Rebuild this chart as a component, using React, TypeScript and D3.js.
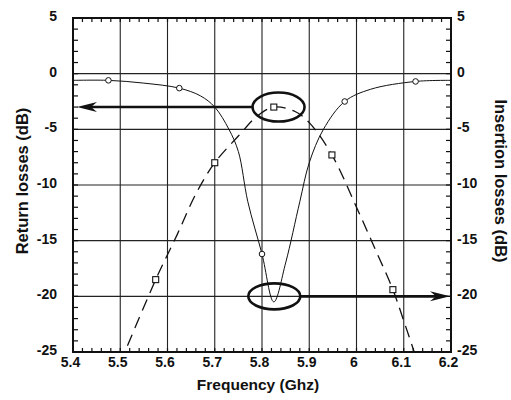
import React from 'react';
import * as d3 from 'd3';

// frequency axis (GHz) and dB axes
const freqTicks = [5.4, 5.5, 5.6, 5.7, 5.8, 5.9, 6.0, 6.1, 6.2];
const dbTicks = [5, 0, -5, -10, -15, -20, -25];

// solid curve (V shaped notch) with circle markers
const solidFreq = [5.4, 5.475, 5.55, 5.625, 5.67, 5.7, 5.73, 5.75, 5.77, 5.8, 5.825, 5.85, 5.88, 5.9, 5.93, 5.975, 6.03, 6.125, 6.2];
const solidDb = [-0.6, -0.6, -0.85, -1.3, -2.0, -3.0, -5.0, -7.0, -11.5, -16.2, -20.5, -17.0, -11.5, -8.0, -5.0, -2.5, -1.4, -0.7, -0.6];
const circleFreq = [5.475, 5.625, 5.8, 5.975, 6.125];
const circleDb = [-0.6, -1.3, -16.2, -2.5, -0.7];

// dashed curve (pass band) with square markers
const dashFreq = [5.5, 5.575, 5.62, 5.66, 5.7, 5.75, 5.79, 5.825, 5.87, 5.9, 5.948, 6.0, 6.04, 6.077, 6.1, 6.13];
const dashDb = [-26, -18.5, -14.5, -10.8, -8.0, -5.6, -3.8, -3.0, -3.4, -4.4, -7.3, -12.0, -15.8, -19.4, -22.2, -26];
const squareFreq = [5.575, 5.7, 5.825, 5.948, 6.077];
const squareDb = [-18.5, -8.0, -3.0, -7.3, -19.4];

// annotation ellipses: [freq, dB]
const ellipseUpper = [5.835, -3.0];
const ellipseLower = [5.826, -20.0];

const W = 511;
const H = 400;
const left = 73;
const right = 451;
const top = 18;
const bottom = 352;
const font = '"Liberation Sans", Arial, sans-serif';
const ink = '#111';

const x = d3.scaleLinear().domain([5.4, 6.2]).range([left, right]);
const y = d3.scaleLinear().domain([-25, 5]).range([bottom, top]);

const fmt = (v: number) => String(Math.round(v * 10) / 10);

export default function App() {
  const solidLine = d3
    .line<number>()
    .x((_, i) => x(solidFreq[i]))
    .y((d) => y(d))
    .curve(d3.curveCatmullRom.alpha(0.5))(solidDb);
  const dashLine = d3
    .line<number>()
    .x((_, i) => x(dashFreq[i]))
    .y((d) => y(d))
    .curve(d3.curveCatmullRom.alpha(0.5))(dashDb);

  const minorX = d3.range(5.4, 6.2001, 0.02);
  const minorY = d3.range(-25, 5.001, 1);

  const rx = 26;
  const ryU = 14.5;
  const ryL = 13;
  const ue = [x(ellipseUpper[0]), y(ellipseUpper[1])];
  const le = [x(ellipseLower[0]), y(ellipseLower[1])];

  const tipL = left + 4;
  const tipR = right - 1;

  return (
    <svg width={W} height={H} style={{ position: 'absolute', left: 0, top: 0, background: '#fff' }}>
      <defs>
        <clipPath id="plot">
          <rect x={left} y={top} width={right - left} height={bottom - top} />
        </clipPath>
      </defs>

      {/* grid */}
      {freqTicks.slice(1, -1).map((f) => (
        <line key={'gx' + f} x1={x(f)} x2={x(f)} y1={top} y2={bottom} stroke="#222" strokeWidth={1.1} />
      ))}
      {dbTicks.slice(1, -1).map((d) => (
        <line key={'gy' + d} x1={left} x2={right} y1={y(d)} y2={y(d)} stroke="#222" strokeWidth={1.1} />
      ))}

      {/* minor ticks */}
      {minorX.map((f, i) => (
        <g key={'mx' + i}>
          <line x1={x(f)} x2={x(f)} y1={bottom} y2={bottom - 4} stroke={ink} strokeWidth={1.2} />
          <line x1={x(f)} x2={x(f)} y1={top} y2={top + 4} stroke={ink} strokeWidth={1.2} />
        </g>
      ))}
      {minorY.map((d, i) => (
        <g key={'my' + i}>
          <line x1={left} x2={left + 5} y1={y(d)} y2={y(d)} stroke={ink} strokeWidth={1.2} />
          <line x1={right} x2={right - 5} y1={y(d)} y2={y(d)} stroke={ink} strokeWidth={1.2} />
        </g>
      ))}

      {/* frame */}
      <rect x={left} y={top} width={right - left} height={bottom - top} fill="none" stroke={ink} strokeWidth={2} />

      <g clipPath="url(#plot)">
        <path d={solidLine ?? ''} fill="none" stroke={ink} strokeWidth={1} />
        <path d={dashLine ?? ''} fill="none" stroke={ink} strokeWidth={1.3} strokeDasharray="12,7" />
      </g>

      {circleFreq.map((f, i) => (
        <circle key={'c' + i} cx={x(f)} cy={y(circleDb[i])} r={2.8} fill="#fff" stroke={ink} strokeWidth={1} />
      ))}
      {squareFreq.map((f, i) => (
        <rect key={'s' + i} x={x(f) - 3} y={y(squareDb[i]) - 3} width={6} height={6} fill="#fff" stroke={ink} strokeWidth={1.1} />
      ))}

      {/* annotations */}
      <ellipse cx={ue[0]} cy={ue[1]} rx={rx} ry={ryU} fill="none" stroke={ink} strokeWidth={2.6} />
      <ellipse cx={le[0]} cy={le[1]} rx={rx} ry={ryL} fill="none" stroke={ink} strokeWidth={2.6} />
      <line x1={ue[0] - rx} x2={tipL + 10} y1={ue[1]} y2={ue[1]} stroke={ink} strokeWidth={2.4} />
      <path
        d={`M${tipL},${ue[1]} L${tipL + 20},${ue[1] - 5} L${tipL + 14},${ue[1]} L${tipL + 20},${ue[1] + 5} Z`}
        fill={ink}
      />
      <line x1={le[0] + rx} x2={tipR - 10} y1={le[1]} y2={le[1]} stroke={ink} strokeWidth={2.8} />
      <path
        d={`M${tipR},${le[1]} L${tipR - 20},${le[1] - 5} L${tipR - 14},${le[1]} L${tipR - 20},${le[1] + 5} Z`}
        fill={ink}
      />

      {/* tick labels */}
      <g fontFamily={font} fontWeight="bold" fontSize={14} fill={ink}>
        {freqTicks.map((f) => (
          <text key={'tx' + f} x={x(f) - 2.5} y={367} textAnchor="middle">
            {fmt(f)}
          </text>
        ))}
        {dbTicks.map((d) => (
          <text key={'tl' + d} x={left - 16} y={y(d) + 3} textAnchor="end">
            {d}
          </text>
        ))}
        {dbTicks.map((d) => (
          <text key={'tr' + d} x={right + 6} y={y(d) + 3} textAnchor="start">
            {d}
          </text>
        ))}
      </g>

      {/* axis titles */}
      <g fontFamily={font} fontWeight="bold" fill={ink}>
        <text x={258} y={390} textAnchor="middle" fontSize={15.5}>
          Frequency (Ghz)
        </text>
        <text transform={`translate(28,181) rotate(-90)`} textAnchor="middle" fontSize={16.5}>
          Return losses (dB)
        </text>
        <text transform={`translate(495,181) rotate(90)`} textAnchor="middle" fontSize={16.5}>
          Insertion losses (dB)
        </text>
      </g>
    </svg>
  );
}
